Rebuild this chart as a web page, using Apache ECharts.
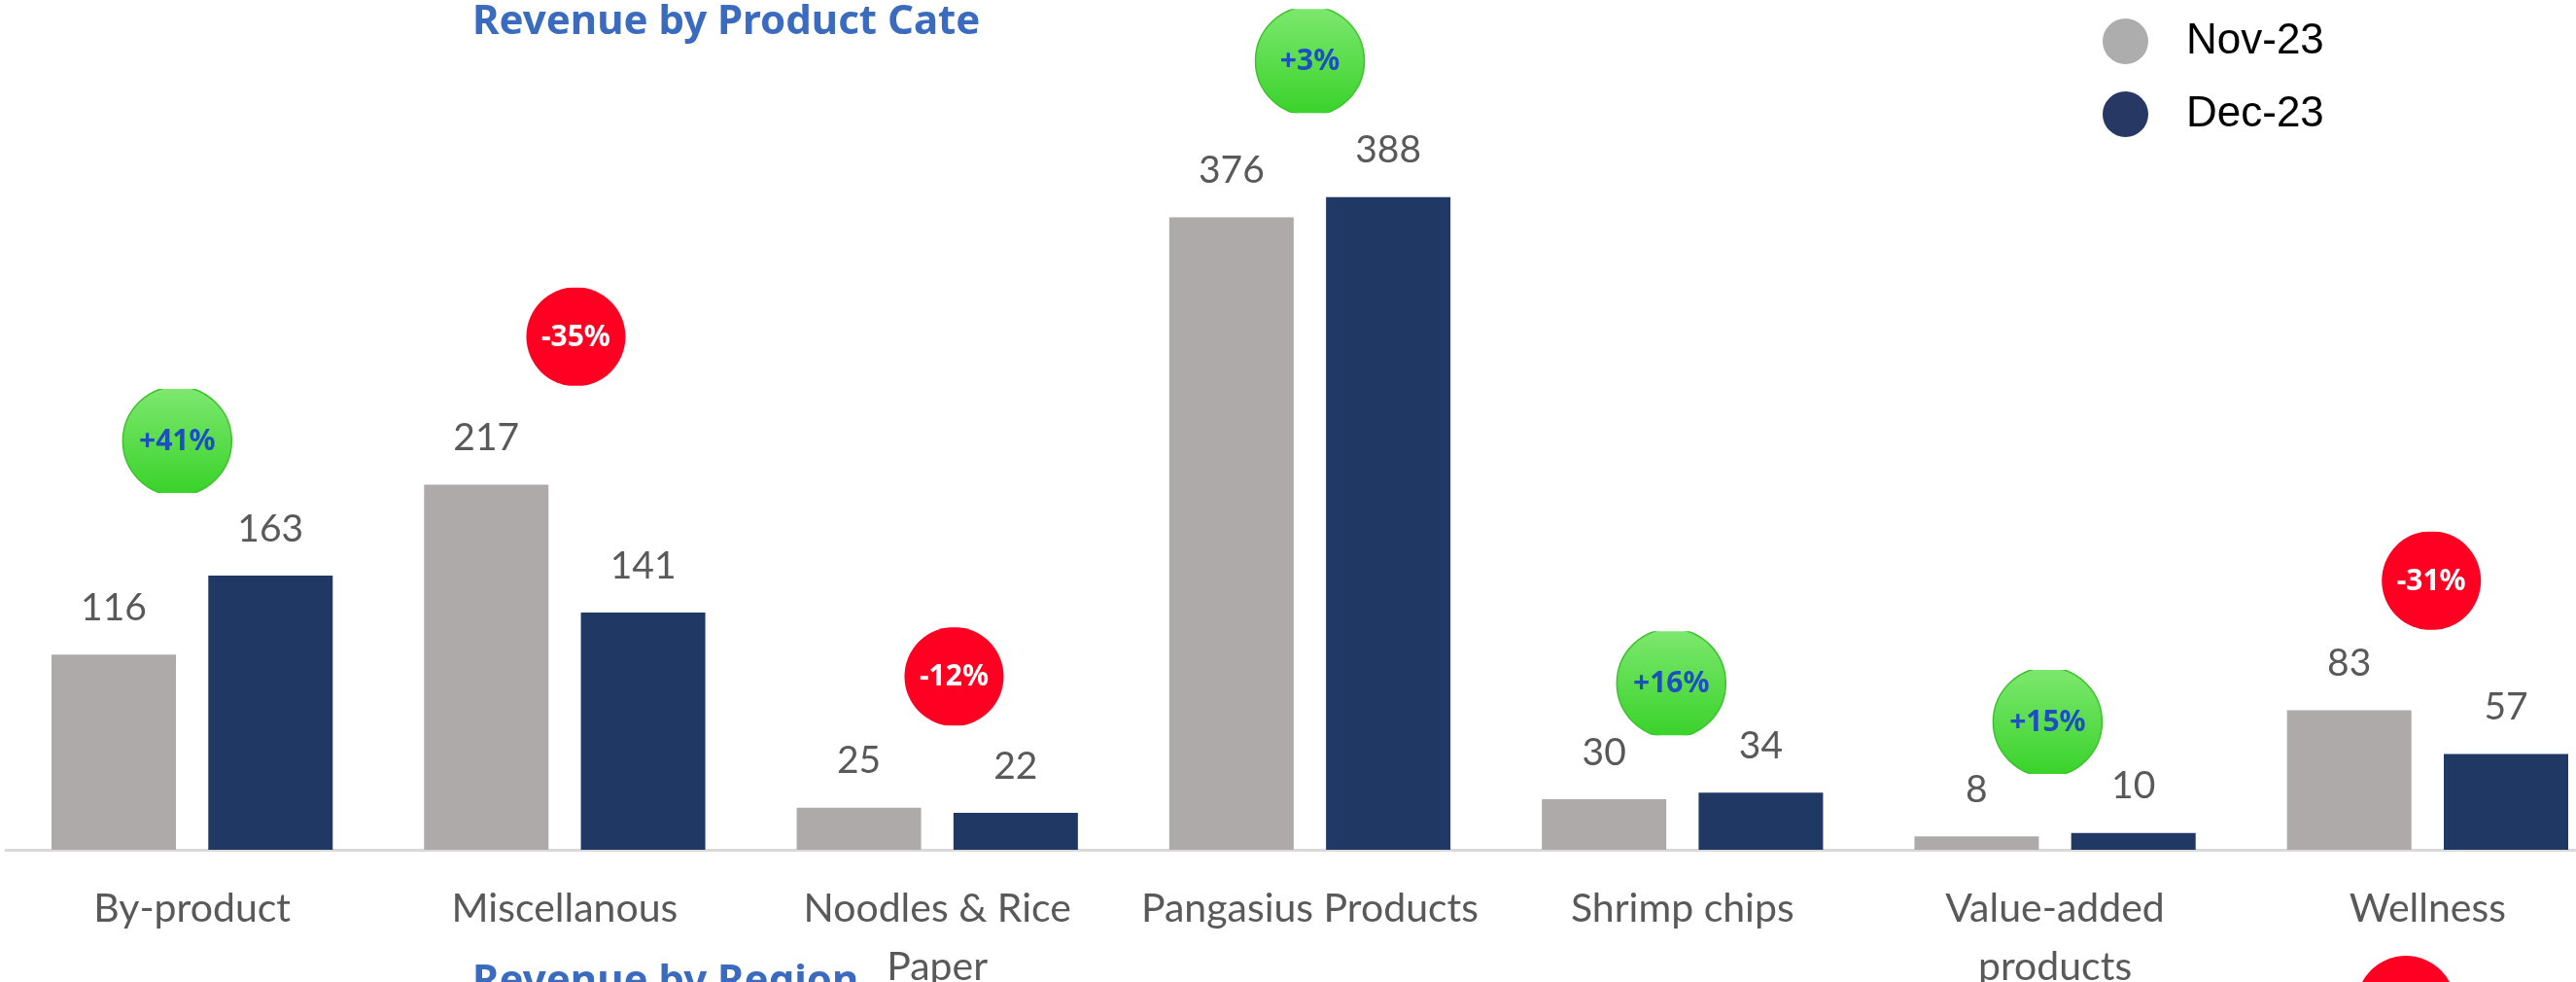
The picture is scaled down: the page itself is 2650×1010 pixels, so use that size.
<!DOCTYPE html>
<html>
<head>
<meta charset="utf-8">
<script src="https://cdn.jsdelivr.net/npm/echarts@6/dist/echarts.min.js"></script>
<style>
  html, body { margin: 0; padding: 0; background: #ffffff; overflow: hidden; width: 2650px; height: 1010px; }
  #chart { width: 2689px; height: 1010px; }
</style>
</head>
<body>
<div id="chart"></div>
<script>
// ---- data ----
const categories = ['By-product', 'Miscellanous', 'Noodles & Rice Paper', 'Pangasius Products', 'Shrimp chips', 'Value-added products', 'Wellness'];
const categoryLabels = ['By-product', 'Miscellanous', 'Noodles & Rice\nPaper', 'Pangasius Products', 'Shrimp chips', 'Value-added\nproducts', 'Wellness'];
const seriesNames = ['Nov-23', 'Dec-23'];
const nov23 = [116, 217, 25, 376, 30, 8, 83];
const dec23 = [163, 141, 22, 388, 34, 10, 57];
const changeLabels = ['+41%', '-35%', '-12%', '+3%', '+16%', '+15%', '-31%'];
// bubble level (in value units) and horizontal shift (in category widths)
const bubbleLevel = [243, 305, 103, 469, 99, 76, 160];
const bubbleShift = [-0.04, 0.03, 0.045, 0, -0.03, -0.02, 0.01];

const chart = echarts.init(document.getElementById('chart'));

const greenFill = new echarts.graphic.LinearGradient(0, 0, 0, 1, [
  { offset: 0, color: '#7EE870' },
  { offset: 1, color: '#38D229' }
]);

const option = {
  backgroundColor: '#ffffff',
  animation: false,
  title: [
    {
      text: 'Revenue by Product Cate',
      left: 486, top: 2, padding: 0,
      textStyle: { fontFamily: 'Noto Sans', fontWeight: 'bold', fontSize: 42, lineHeight: 42, color: '#3A6BBE' }
    },
    {
      text: 'Revenue by Region',
      left: 486, top: 989, padding: 0,
      textStyle: { fontFamily: 'Noto Sans', fontWeight: 'bold', fontSize: 42, lineHeight: 42, color: '#3A6BBE' }
    }
  ],
  legend: {
    orient: 'vertical',
    left: 2163, top: 19, padding: 0,
    itemWidth: 47, itemHeight: 47, itemGap: 28,
    icon: 'circle',
    data: [
      { name: seriesNames[0], itemStyle: { color: '#ADADAD' } },
      { name: seriesNames[1], itemStyle: { color: '#283864' } }
    ],
    textStyle: { fontFamily: 'Liberation Sans', fontSize: 44, color: '#000000', padding: [0, 0, 0, 34] }
  },
  grid: { left: 6, right: 0, top: 9, bottom: 136, containLabel: false, outerBoundsMode: 'none' },
  xAxis: {
    type: 'category',
    data: categories,
    axisLine: { show: true, lineStyle: { color: '#D9D9D9', width: 3 } },
    axisTick: { show: false },
    splitLine: { show: false },
    axisLabel: {
      interval: 0,
      margin: 31,
      fontFamily: 'Lato',
      fontSize: 41,
      lineHeight: 60,
      color: '#595959',
      hideOverlap: false,
      formatter: function (v, i) { return categoryLabels[i]; }
    }
  },
  yAxis: { type: 'value', min: 0, max: 500, show: false, splitLine: { show: false } },
  series: [
    {
      name: seriesNames[0], type: 'bar', data: nov23,
      barWidth: 128, barGap: '26%',
      itemStyle: { color: '#AEAAAA' },
      label: { show: true, position: 'top', distance: 28, fontFamily: 'Lato', fontSize: 39, lineHeight: 40, color: '#595959' }
    },
    {
      name: seriesNames[1], type: 'bar', data: dec23,
      barWidth: 128, barGap: '26%',
      itemStyle: { color: '#203864' },
      label: { show: true, position: 'top', distance: 28, fontFamily: 'Lato', fontSize: 39, lineHeight: 40, color: '#595959' }
    },
    {
      name: 'change', type: 'custom',
      data: bubbleLevel.map(function (v, i) { return [i, v]; }),
      encode: { x: 0, y: 1 },
      silent: true,
      z: 5,
      renderItem: function (params, api) {
        const i = params.dataIndex;
        const pt = api.coord([api.value(0), api.value(1)]);
        const bw = api.size([1, 0])[0];
        const cx = pt[0] + bubbleShift[i] * bw;
        const cy = pt[1];
        const up = changeLabels[i].charAt(0) === '+';
        const r = up ? 56 : 51;
        const h = up ? 107 : 101;
        return {
          type: 'group',
          children: [
            {
              type: 'circle',
              shape: { cx: cx, cy: cy, r: r },
              style: up ? { fill: greenFill, stroke: '#3CC22C', lineWidth: 1.5 } : { fill: '#FF0022' },
              clipPath: { type: 'rect', shape: { x: cx - r - 3, y: cy - h / 2, width: 2 * r + 6, height: h } }
            },
            {
              type: 'text',
              style: {
                text: changeLabels[i], x: cx, y: cy + 1,
                align: 'center', verticalAlign: 'middle',
                font: 'bold 30px "Noto Sans"',
                fill: up ? '#1C4FC2' : '#FFFFFF'
              }
            }
          ]
        };
      }
    }
  ],
  graphic: [
    {
      type: 'circle', silent: true,
      shape: { cx: 2475, cy: 1034, r: 51 },
      style: { fill: '#FF0022' }
    }
  ]
};

chart.setOption(option);
</script>
</body>
</html>
